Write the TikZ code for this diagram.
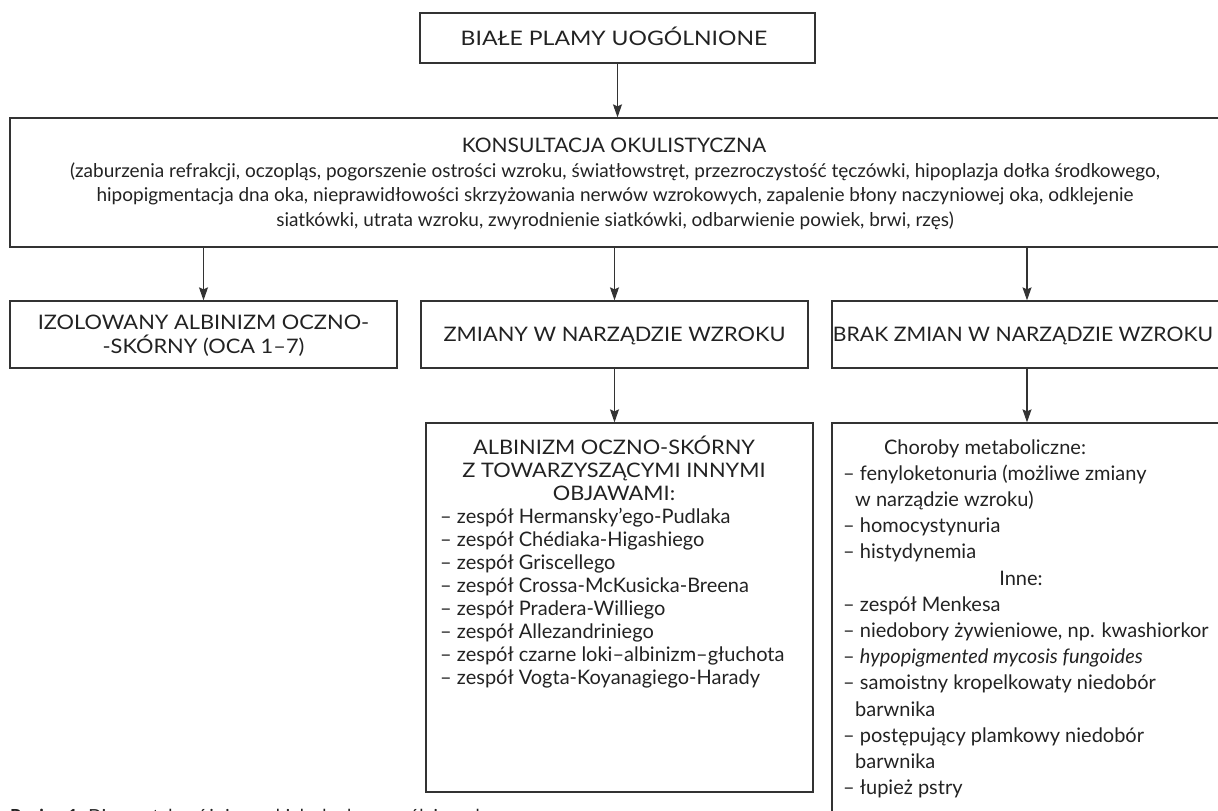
\documentclass[tikz,border=0pt]{standalone}
\usepackage{fontspec}
\usepackage{graphicx}
\setmainfont{Lato}
\usetikzlibrary{arrows.meta}
\definecolor{ink}{HTML}{222222}
\definecolor{rule}{HTML}{333333}
% wide capitals for the headings
\newcommand{\widecaps}[2][1.09]{\scalebox{#1}[1]{#2}}
\begin{document}
\begin{tikzpicture}[x=1pt,y=-1pt,
  box/.style={draw=rule, line width=1.3pt, inner sep=0pt},
  txt/.style={font=\fontsize{19}{24.5}\selectfont, text=ink, inner sep=0pt},
  lline/.style={txt, anchor=base west},
  cline/.style={txt, anchor=base},
  capline/.style={cline, font=\fontsize{20}{24.5}\selectfont},
  item/.style={lline, font=\fontsize{20}{24.5}\selectfont},
  arr/.style={draw=rule, line width=1.1pt, -{Stealth[length=13pt,width=9pt,inset=2pt]}},
]
\useasboundingbox (0,0) rectangle (1218,811);

% ---------- boxes ----------
\node[box, minimum width=395pt, minimum height=50pt] (top) at (617.5,38) {};
\node[box, minimum width=1212pt, minimum height=129pt] (kons) at (616,182.5) {};
\node[box, minimum width=387pt, minimum height=67pt] (izo) at (203.5,334.5) {};
\node[box, minimum width=387pt, minimum height=67pt] (zm) at (614.5,334.5) {};
\node[box, minimum width=390pt, minimum height=67pt] (brak) at (1027,334.5) {};
\node[box, minimum width=387pt, minimum height=369pt] (alb) at (619.5,607.5) {};
\node[box, minimum width=392pt, minimum height=420pt] (inne) at (1028,633) {};

% ---------- connectors ----------
\draw[arr] (top.south) -- (top.south |- kons.north);
\draw[arr] (izo.north |- kons.south) -- (izo.north);
\draw[arr] (zm.north |- kons.south) -- (zm.north);
\draw[arr] (brak.north |- kons.south) -- (brak.north);
\draw[arr] (zm.south) -- (zm.south |- alb.north);
\draw[arr] (brak.south) -- (brak.south |- inne.north);

% ---------- texts ----------
\node[capline] (t-top) at (614,45) {\widecaps[1.15]{BIAŁE PLAMY UOGÓLNIONE}};

\node[capline] (k1) at (614,152.75) {\widecaps[1.05]{KONSULTACJA OKULISTYCZNA}};
\node[cline] (k2) at (615,177.25) {(zaburzenia refrakcji, oczopląs, pogorszenie ostrości wzroku, światłowstręt, przezroczystość tęczówki, hipoplazja dołka środkowego,};
\node[cline] (k3) at (615,201.75) {hipopigmentacja dna oka, nieprawidłowości skrzyżowania nerwów wzrokowych, zapalenie błony naczyniowej oka, odklejenie};
\node[cline] (k4) at (615,226.25) {siatkówki, utrata wzroku, zwyrodnienie siatkówki, odbarwienie powiek, brwi, rzęs)};

\node[capline] (i1) at (203.5,329) {\widecaps{IZOLOWANY ALBINIZM OCZNO-}};
\node[capline] (i2) at (203.5,353.5) {\widecaps{-SKÓRNY (OCA 1–7)}};
\node[capline] (z1) at (614.5,341.5) {\widecaps{ZMIANY W NARZĄDZIE WZROKU}};
\node[capline] (b1) at (1023,341.5) {\widecaps[1.06]{BRAK ZMIAN W NARZĄDZIE WZROKU}};

\node[capline] (a1) at (614,454) {\widecaps{ALBINIZM OCZNO-SKÓRNY}};
\node[capline] (a2) at (614,477) {\widecaps{Z TOWARZYSZĄCYMI INNYMI}};
\node[capline] (a3) at (614,500) {\widecaps{OBJAWAMI:}};
\node[item] (a4) at (440,523) {– zespół Hermansky’ego-Pudlaka};
\node[item] (a5) at (440,546) {– zespół Chédiaka-Higashiego};
\node[item] (a6) at (440,569) {– zespół Griscellego};
\node[item] (a7) at (440,592) {– zespół Crossa-McKusicka-Breena};
\node[item] (a8) at (440,615) {– zespół Pradera-Williego};
\node[item] (a9) at (440,638) {– zespół Allezandriniego};
\node[item] (a10) at (440,661) {– zespół czarne loki–albinizm–głuchota};
\node[item] (a11) at (440,684) {– zespół Vogta-Koyanagiego-Harady};

\node[cline, font=\fontsize{20}{24.5}\selectfont] (n1) at (985,454) {Choroby metaboliczne:};
\node[item] (n2) at (843,480.2) {– fenyloketonuria (możliwe zmiany};
\node[item] (n3) at (855,506.4) {w narządzie wzroku)};
\node[item] (n4) at (843,532.6) {– homocystynuria};
\node[item] (n5) at (843,558.8) {– histydynemia};
\node[cline, font=\fontsize{20}{24.5}\selectfont] (n6) at (1021,585) {Inne:};
\node[item] (n7) at (843,611.2) {– zespół Menkesa};
\node[item] (n8) at (843,637.4) {– niedobory żywieniowe, np. kwashiorkor};
\node[item] (n9) at (843,663.6) {– \textit{hypopigmented mycosis fungoides}};
\node[item] (n10) at (843,689.8) {– samoistny kropelkowaty niedobór};
\node[item] (n11) at (855,716) {barwnika};
\node[item] (n12) at (843,742.2) {– postępujący plamkowy niedobór};
\node[item] (n13) at (855,768.4) {barwnika};
\node[item] (n14) at (843,794.6) {– łupież pstry};

% ---------- caption ----------
\node[lline, font=\fontsize{18}{22}\selectfont] (cap) at (10,822) {\textbf{Rycina 1.} Diagnostyka różnicowa białych plam uogólnionych};
\end{tikzpicture}
\end{document}
